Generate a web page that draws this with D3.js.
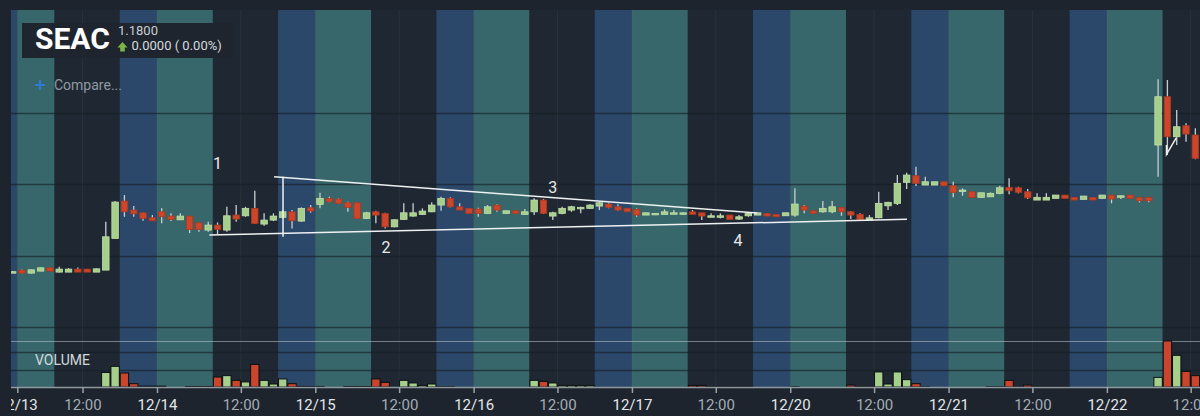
<!DOCTYPE html>
<html>
<head>
<meta charset="utf-8">
<script src="https://cdn.jsdelivr.net/npm/d3@7"></script>
<style>
  html, body { margin: 0; padding: 0; background: #1d242d; overflow: hidden; }
  svg { display: block; font-family: Roboto, "Noto Sans", sans-serif; }
</style>
</head>
<body>
<svg id="chart" width="1200" height="416"></svg>
<script>
// ---- data ----
var symbol = "SEAC";
var lastPrice = "1.1800";
var change = "0.0000 ( 0.00%)";

var dates = ["12/13", "12/14", "12/15", "12/16", "12/17", "12/20", "12/21", "12/22"];
// bar slot where each day's regular session opens, and how many bars it has
var sessionOpen = [-0.5, 14.5, 31.5, 48.5, 65.5, 82.5, 99.5, 116.5];
var sessionBars = [4, 6, 6, 6, 6, 6, 6, 6];
var afterBars = 7, preBars = 4, noonAfterClose = 3;

var firstBar = -1;
// [open, high, low, close]
var ohlc = [
  [1.0887,1.0891,1.0882,1.0887],[1.0898,1.0902,1.0874,1.0877],[1.0877,1.0902,1.0875,1.0900],[1.0891,1.0917,1.0891,1.0914],[1.0914,1.0915,1.0891,1.0891],
  [1.0884,1.0921,1.0882,1.0905],[1.0884,1.0912,1.0884,1.0905],[1.0905,1.0917,1.0884,1.0884],[1.0905,1.0905,1.0884,1.0884],[1.0884,1.0909,1.0884,1.0907],
  [1.0898,1.1236,1.0898,1.1131],[1.1120,1.1381,1.1120,1.1374],[1.1381,1.1423,1.1271,1.1306],[1.1318,1.1346,1.1271,1.1292],[1.1299,1.1299,1.1243,1.1260],
  [1.1264,1.1283,1.1243,1.1243],[1.1306,1.1330,1.1225,1.1271],[1.1276,1.1295,1.1241,1.1253],[1.1250,1.1295,1.1250,1.1276],[1.1276,1.1276,1.1157,1.1183],
  [1.1229,1.1229,1.1166,1.1183],[1.1178,1.1236,1.1166,1.1213],[1.1213,1.1232,1.1150,1.1183],[1.1178,1.1341,1.1166,1.1278],[1.1283,1.1353,1.1236,1.1255],
  [1.1278,1.1341,1.1271,1.1330],[1.1330,1.1453,1.1220,1.1225],[1.1220,1.1295,1.1208,1.1248],[1.1248,1.1295,1.1241,1.1276],[1.1267,1.1318,1.1260,1.1306],
  [1.1306,1.1318,1.1190,1.1243],[1.1241,1.1337,1.1236,1.1330],[1.1334,1.1353,1.1299,1.1311],[1.1358,1.1439,1.1330,1.1400],[1.1400,1.1411,1.1372,1.1376],
  [1.1395,1.1400,1.1360,1.1365],[1.1369,1.1376,1.1306,1.1337],[1.1369,1.1369,1.1255,1.1260],[1.1260,1.1306,1.1255,1.1299],[1.1306,1.1313,1.1225,1.1283],
  [1.1295,1.1299,1.1190,1.1201],[1.1201,1.1253,1.1197,1.1250],[1.1253,1.1365,1.1248,1.1299],[1.1276,1.1365,1.1271,1.1299],[1.1288,1.1330,1.1283,1.1311],
  [1.1306,1.1372,1.1302,1.1353],[1.1353,1.1411,1.1313,1.1400],[1.1400,1.1407,1.1337,1.1341],[1.1341,1.1365,1.1318,1.1318],[1.1330,1.1330,1.1295,1.1295],
  [1.1325,1.1334,1.1271,1.1295],[1.1295,1.1353,1.1290,1.1341],[1.1353,1.1358,1.1306,1.1318],[1.1295,1.1313,1.1295,1.1313],[1.1313,1.1313,1.1295,1.1295],
  [1.1288,1.1325,1.1288,1.1306],[1.1306,1.1400,1.1283,1.1388],[1.1388,1.1395,1.1290,1.1295],[1.1276,1.1306,1.1248,1.1299],[1.1295,1.1341,1.1288,1.1330],
  [1.1318,1.1348,1.1306,1.1341],[1.1330,1.1341,1.1295,1.1337],[1.1330,1.1358,1.1325,1.1353],[1.1346,1.1376,1.1318,1.1369],[1.1360,1.1365,1.1330,1.1337],
  [1.1341,1.1358,1.1313,1.1318],[1.1330,1.1330,1.1306,1.1306],[1.1323,1.1330,1.1271,1.1283],[1.1283,1.1299,1.1283,1.1299],[1.1295,1.1297,1.1292,1.1295],
  [1.1288,1.1323,1.1288,1.1306],[1.1295,1.1318,1.1295,1.1299],[1.1297,1.1299,1.1283,1.1299],[1.1306,1.1318,1.1288,1.1288],[1.1299,1.1299,1.1248,1.1276],
  [1.1274,1.1295,1.1271,1.1278],[1.1276,1.1295,1.1260,1.1278],[1.1283,1.1283,1.1253,1.1253],[1.1255,1.1283,1.1248,1.1271],[1.1278,1.1302,1.1271,1.1295],
  [1.1283,1.1299,1.1283,1.1299],[1.1295,1.1295,1.1276,1.1276],[1.1288,1.1288,1.1271,1.1271],[1.1278,1.1299,1.1278,1.1299],[1.1283,1.1470,1.1271,1.1360],
  [1.1346,1.1353,1.1295,1.1318],[1.1313,1.1313,1.1295,1.1295],[1.1306,1.1381,1.1299,1.1330],[1.1306,1.1381,1.1295,1.1341],[1.1337,1.1339,1.1278,1.1306],
  [1.1306,1.1311,1.1255,1.1283],[1.1288,1.1295,1.1248,1.1253],[1.1248,1.1283,1.1248,1.1264],[1.1264,1.1446,1.1260,1.1365],[1.1348,1.1376,1.1318,1.1372],
  [1.1365,1.1563,1.1353,1.1505],[1.1512,1.1579,1.1465,1.1563],[1.1558,1.1621,1.1486,1.1505],[1.1493,1.1551,1.1493,1.1516],[1.1493,1.1516,1.1493,1.1516],
  [1.1516,1.1516,1.1488,1.1488],[1.1488,1.1516,1.1407,1.1442],[1.1456,1.1470,1.1418,1.1458],[1.1446,1.1446,1.1407,1.1407],[1.1407,1.1439,1.1407,1.1439],
  [1.1411,1.1442,1.1411,1.1435],[1.1435,1.1488,1.1428,1.1474],[1.1477,1.1540,1.1428,1.1453],[1.1474,1.1481,1.1435,1.1442],[1.1446,1.1465,1.1395,1.1404],
  [1.1388,1.1435,1.1388,1.1407],[1.1388,1.1435,1.1388,1.1407],[1.1400,1.1423,1.1400,1.1423],[1.1423,1.1423,1.1400,1.1400],[1.1407,1.1407,1.1388,1.1388],
  [1.1393,1.1416,1.1393,1.1416],[1.1407,1.1407,1.1388,1.1388],[1.1400,1.1423,1.1400,1.1423],[1.1423,1.1423,1.1365,1.1395],[1.1416,1.1418,1.1395,1.1418],
  [1.1423,1.1423,1.1400,1.1400],[1.1407,1.1407,1.1372,1.1383],[1.1407,1.1407,1.1372,1.1383],[1.1773,1.2233,1.1551,1.2111],[1.2111,1.2228,1.1703,1.1831],
  [1.1831,1.2018,1.1773,1.1901],[1.1908,1.1925,1.1796,1.1850],[1.1843,1.1890,1.1673,1.1680]
];
// volume, thousands
var volume = [
  0,0,0,0,0,0,0,0,0,0,
  83,118,80,19,5,5,5,0,0,3,
  3,3,57,65,38,29,129,38,17,46,
  19,3,3,3,0,0,3,3,3,46,
  26,0,38,23,9,17,2,2,0,0,
  0,0,0,0,0,0,38,32,23,9,
  9,9,9,0,0,0,0,0,0,0,
  0,0,0,9,9,2,2,2,2,2,
  0,0,0,0,2,0,0,0,0,0,
  11,2,2,86,17,86,42,19,2,0,
  0,0,0,0,0,2,2,38,2,11,
  2,2,2,2,0,0,0,0,0,0,
  0,0,0,55,263,181,89,65
];
var priceGrid = [1.05, 1.10, 1.15, 1.20];
var volumeGrid = [100, 200];

// hand drawn trend lines, [bar, price] points
var trendLines = [
  [[27.07, 1.1551], [78.95, 1.1297]],
  [[28.03, 1.1551], [28.03, 1.1131]],
  [[20.12, 1.1143], [95.03, 1.1253]],
  [[122.9, 1.1773], [122.9, 1.1708], [123.95, 1.1824]]
];
var noteText = ["1", "2", "3", "4"];
var noteBar = [21.0, 39.1, 57.0, 76.9];
var notePrice = [1.1647, 1.1059, 1.1479, 1.1108];

// ---- layout ----
var W = 1200, H = 416;
var plotLeft = 11, plotRight = 1200, plotTop = 10, sep = 341, base = 387;
var colors = {pre: "#2b4769", mkt: "#37676a", post: "#1f2832"};

var svg = d3.select("#chart");
var x = d3.scaleLinear().domain([-1.18, 126.5]).range([plotLeft, plotRight]);
var y = d3.scaleLinear().domain([1.05, 1.20]).range([327, 112.6]);
var yv = d3.scaleLinear().domain([0, 200]).range([base, 352]);
var step = x(1) - x(0);

var defs = svg.append("defs");
defs.append("clipPath").attr("id", "plotclip").append("rect")
  .attr("x", plotLeft).attr("y", plotTop).attr("width", plotRight - plotLeft).attr("height", base - plotTop);
defs.append("clipPath").attr("id", "priceclip").append("rect")
  .attr("x", plotLeft).attr("y", plotTop).attr("width", plotRight - plotLeft).attr("height", sep - plotTop);
defs.append("clipPath").attr("id", "axisclip").append("rect")
  .attr("x", plotLeft).attr("y", base - 2).attr("width", plotRight - plotLeft).attr("height", H - base + 2);

svg.append("rect").attr("width", W).attr("height", H).attr("fill", "#1d242d");

// session bands
var bands = [{a: sessionOpen[0] - preBars, b: sessionOpen[0], c: "pre"}];
dates.forEach(function(d, i){
  var o = sessionOpen[i], m = o + sessionBars[i];
  bands.push({a: o, b: m, c: "mkt"});
  bands.push({a: m, b: m + afterBars, c: "post"});
  bands.push({a: m + afterBars, b: m + afterBars + preBars, c: "pre"});
});
var plot = svg.append("g").attr("clip-path", "url(#plotclip)");
plot.append("rect").attr("x", plotLeft).attr("y", plotTop)
  .attr("width", plotRight - plotLeft).attr("height", base - plotTop)
  .attr("fill", colors.post);
plot.selectAll("rect.band").data(bands).enter().append("rect")
  .attr("class", "band")
  .attr("x", function(d){ return x(d.a); })
  .attr("width", function(d){ return x(d.b) - x(d.a); })
  .attr("y", plotTop).attr("height", base - plotTop)
  .attr("fill", function(d){ return colors[d.c]; });

// ticks
var ticks = [];
dates.forEach(function(d, i){
  ticks.push({v: sessionOpen[i], label: d, major: true});
  ticks.push({v: sessionOpen[i] + sessionBars[i] + noonAfterClose, label: "12:00", major: false});
});

plot.selectAll("line.vgrid").data(ticks).enter().append("line")
  .attr("x1", function(d){ return x(d.v); }).attr("x2", function(d){ return x(d.v); })
  .attr("y1", plotTop).attr("y2", base)
  .attr("stroke", "rgba(255,255,255,0.05)").attr("stroke-width", 1);

plot.selectAll("line.hgrid").data(priceGrid).enter().append("line")
  .attr("x1", plotLeft).attr("x2", plotRight)
  .attr("y1", function(d){ return Math.round(y(d)) + 0.5; })
  .attr("y2", function(d){ return Math.round(y(d)) + 0.5; })
  .attr("stroke", "rgba(20,27,35,0.6)").attr("stroke-width", 1.5);

plot.selectAll("line.vgridv").data(volumeGrid).enter().append("line")
  .attr("x1", plotLeft).attr("x2", plotRight)
  .attr("y1", function(d){ return Math.round(yv(d)) + 0.5; })
  .attr("y2", function(d){ return Math.round(yv(d)) + 0.5; })
  .attr("stroke", "rgba(20,27,35,0.6)").attr("stroke-width", 1.5);

plot.append("line").attr("x1", plotLeft).attr("x2", plotRight).attr("y1", sep + 0.5).attr("y2", sep + 0.5)
  .attr("stroke", "rgba(190,198,205,0.55)").attr("stroke-width", 1);

plot.append("text").attr("x", 35).attr("y", 365)
  .attr("fill", "#d3d8dc").attr("font-size", 14).text("VOLUME");

// axis
svg.append("line").attr("x1", plotLeft).attr("x2", plotRight)
  .attr("y1", base + 0.5).attr("y2", base + 0.5)
  .attr("stroke", "#8f979f").attr("stroke-width", 1.5);

var xAxis = d3.axisBottom(x)
  .tickValues(ticks.map(function(t){ return t.v; }))
  .tickFormat(function(v, i){ return ticks[i].label; })
  .tickSize(6).tickPadding(6.3);
var ax = svg.append("g").attr("clip-path", "url(#axisclip)")
  .append("g").attr("transform", "translate(0," + base + ")")
  .call(xAxis);
ax.select(".domain").remove();
ax.selectAll(".tick line").attr("stroke", "#9aa2a9").attr("stroke-width", 1.5);
ax.selectAll(".tick text")
  .attr("font-family", "Roboto, sans-serif").attr("font-size", 15)
  .attr("fill", function(v, i){ return ticks[i].major ? "#e3e6e9" : "#a4acb4"; });

// volume bars
var bars = ohlc.map(function(d, i){
  return {i: firstBar + i, o: d[0], h: d[1], l: d[2], c: d[3], v: volume[i], up: d[3] >= d[0]};
});
var vb = step * 0.9;
plot.selectAll("rect.vol").data(bars.filter(function(d){ return d.v > 0; })).enter().append("rect")
  .attr("class", "vol")
  .attr("x", function(d){ return x(d.i) - vb / 2; })
  .attr("width", vb)
  .attr("y", function(d){ return yv(d.v); })
  .attr("height", function(d){ return base - yv(d.v); })
  .attr("fill", function(d){ return d.up ? "#a6cf8b" : "#c9452b"; })
  .attr("stroke", "#0c0f12").attr("stroke-width", 1);

// candles
var price = svg.append("g").attr("clip-path", "url(#priceclip)");
var cw = step * 0.7;
var candle = price.selectAll("g.candle").data(bars).enter().append("g").attr("class", "candle");
candle.append("line")
  .attr("x1", function(d){ return x(d.i); }).attr("x2", function(d){ return x(d.i); })
  .attr("y1", function(d){ return y(d.h); }).attr("y2", function(d){ return y(d.l); })
  .attr("stroke", "#c8cdd2").attr("stroke-width", 1.3);
candle.append("rect")
  .attr("x", function(d){ return x(d.i) - cw / 2; })
  .attr("width", cw)
  .attr("y", function(d){ return y(Math.max(d.o, d.c)); })
  .attr("height", function(d){ return Math.max(1.5, Math.abs(y(d.o) - y(d.c))); })
  .attr("fill", function(d){ return d.up ? "#a7cf8c" : "#cc462b"; })
  .attr("stroke", function(d){ return d.up ? "#c1dfa9" : "#a9381f"; })
  .attr("stroke-width", 0.8);

// trend lines and notes
var line = d3.line().x(function(d){ return x(d[0]); }).y(function(d){ return y(d[1]); });
price.selectAll("path.trend").data(trendLines).enter().append("path")
  .attr("d", line).attr("fill", "none")
  .attr("stroke", "#eef0f2").attr("stroke-width", 1.5);
price.selectAll("text.note").data(noteText).enter().append("text")
  .attr("x", function(d, i){ return x(noteBar[i]); })
  .attr("y", function(d, i){ return y(notePrice[i]); })
  .attr("dy", "0.36em").attr("text-anchor", "middle")
  .attr("fill", "#e6e8ea").attr("font-size", 16).text(function(d){ return d; });

// header box
var hdr = svg.append("g");
hdr.append("rect").attr("x", 22).attr("y", 23).attr("width", 211).attr("height", 35).attr("fill", "#1e252f");
hdr.append("text").attr("x", 35).attr("y", 49).attr("fill", "#ffffff")
  .attr("font-size", 30).attr("font-weight", 700).text(symbol);
hdr.append("text").attr("x", 118).attr("y", 35).attr("fill", "#c9ced3").attr("font-size", 13).text(lastPrice);
hdr.append("path").attr("d", "M122.5,42 L127.5,47.5 L124.8,47.5 L124.8,51.5 L120.2,51.5 L120.2,47.5 L117.5,47.5 Z")
  .attr("fill", "#7cb646");
hdr.append("text").attr("x", 131.5).attr("y", 50).attr("fill", "#d6dade").attr("font-size", 13).text(change);

var cmp = svg.append("g");
cmp.append("path").attr("d", "M35,85 H45 M40,80 V90").attr("stroke", "#2f7cd6").attr("stroke-width", 2);
cmp.append("text").attr("x", 54).attr("y", 90).attr("fill", "#8f99a4").attr("font-size", 14).text("Compare...");
</script>
</body>
</html>
